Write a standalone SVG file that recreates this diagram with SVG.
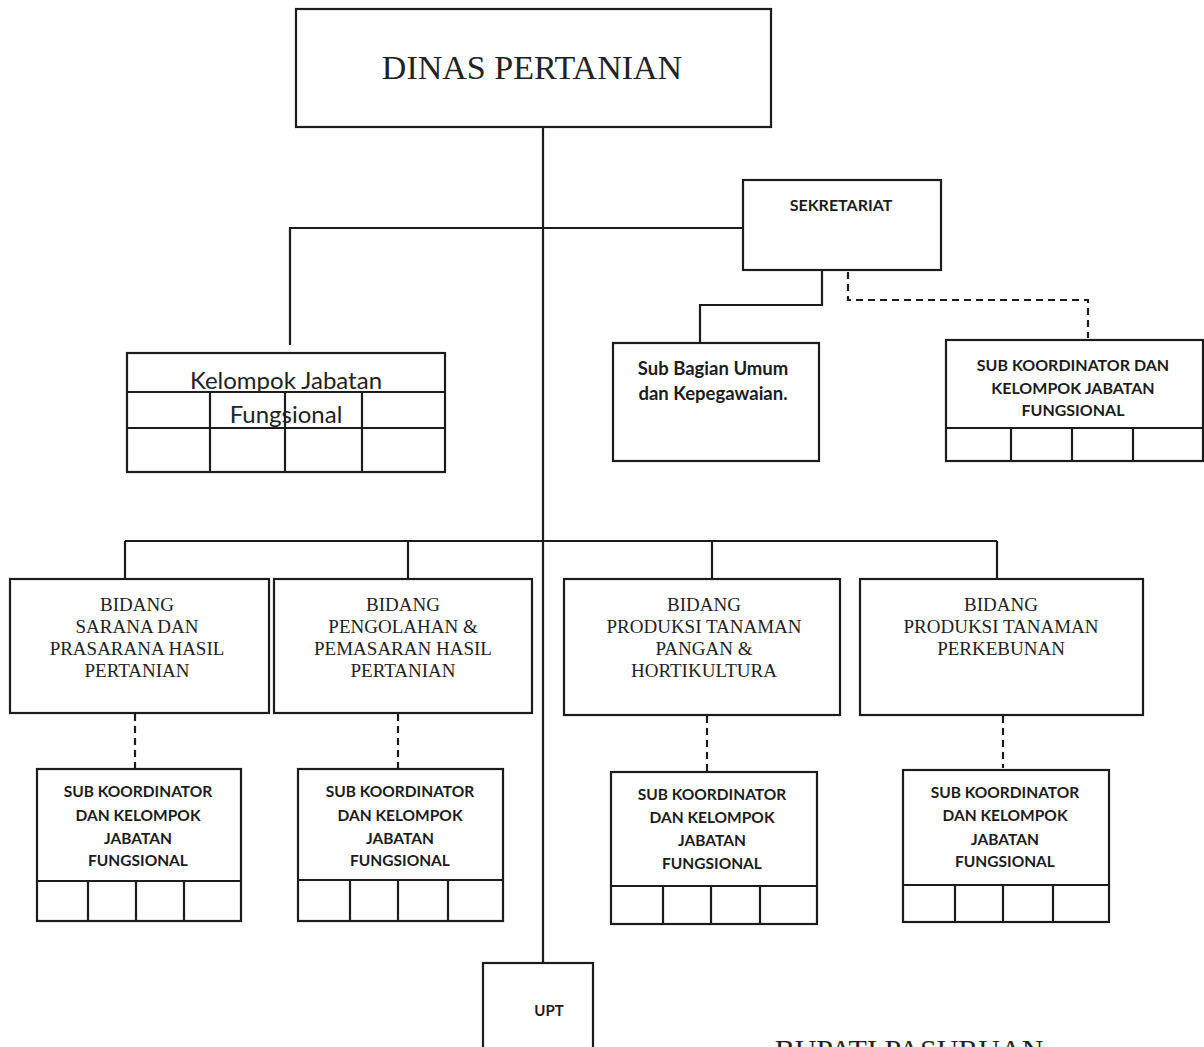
<svg xmlns="http://www.w3.org/2000/svg" width="1204" height="1047" viewBox="0 0 1204 1047">
<style>
.box{fill:#fff;stroke:#1c1c1c;stroke-width:2.2}
.ln{stroke:#1c1c1c;stroke-width:2.2;fill:none}
.dash{stroke:#1c1c1c;stroke-width:2.2;fill:none;stroke-dasharray:7,5}
.serif{font-family:"Liberation Serif","DejaVu Serif",serif;fill:#222;text-anchor:middle}
.sb{font-family:Lato,"Open Sans","Liberation Sans",sans-serif;font-weight:bold;fill:#1c1c1c;text-anchor:middle}
.sr{font-family:Lato,"Open Sans","Liberation Sans",sans-serif;fill:#222;text-anchor:middle}
</style>
<rect width="1204" height="1047" fill="#fff"/>
<g id="connectors">
<line class="ln" x1="543" y1="127" x2="543" y2="963"/>
<polyline class="ln" points="290,345 290,228 743,228"/>
<polyline class="ln" points="822,270 822,305 700,305 700,343"/>
<polyline class="dash" points="848,272 848,300 1088,300 1088,338"/>
<line class="ln" x1="125" y1="541" x2="997" y2="541"/>
<line class="ln" x1="125" y1="541" x2="125" y2="579"/>
<line class="ln" x1="408" y1="541" x2="408" y2="579"/>
<line class="ln" x1="712" y1="541" x2="712" y2="579"/>
<line class="ln" x1="997" y1="541" x2="997" y2="579"/>
<line class="dash" x1="135" y1="714" x2="135" y2="768"/>
<line class="dash" x1="398" y1="714" x2="398" y2="768"/>
<line class="dash" x1="707" y1="716" x2="707" y2="772"/>
<line class="dash" x1="1003" y1="716" x2="1003" y2="768"/>
</g>
<g id="dinas">
<rect class="box" x="296" y="9" width="475" height="118"/>
<text class="serif" x="532" y="79" font-size="34">DINAS PERTANIAN</text>
</g>
<g id="sekretariat">
<rect class="box" x="743" y="180" width="198" height="90"/>
<text class="sb" x="841" y="211" font-size="16">SEKRETARIAT</text>
</g>
<g id="kelompok-jabatan">
<rect class="box" x="127" y="353" width="318" height="119"/>
<line class="ln" x1="127" y1="392" x2="445" y2="392"/>
<line class="ln" x1="127" y1="428" x2="445" y2="428"/>
<line class="ln" x1="210" y1="392" x2="210" y2="472"/>
<line class="ln" x1="285" y1="392" x2="285" y2="472"/>
<line class="ln" x1="362" y1="392" x2="362" y2="472"/>
<text class="sr" x="286" y="389" font-size="24">Kelompok Jabatan</text>
<text class="sr" x="286" y="423" font-size="24">Fungsional</text>
</g>
<g id="sub-bagian">
<rect class="box" x="613" y="343" width="206" height="118"/>
<text class="sb" x="713" y="375" font-size="18.5">Sub Bagian Umum</text>
<text class="sb" x="713" y="400" font-size="18.5">dan Kepegawaian.</text>
</g>
<g id="sub-koordinator-sekretariat">
<rect class="box" x="946" y="340" width="257" height="121"/>
<line class="ln" x1="946" y1="428" x2="1203" y2="428"/>
<line class="ln" x1="1011" y1="428" x2="1011" y2="461"/>
<line class="ln" x1="1072" y1="428" x2="1072" y2="461"/>
<line class="ln" x1="1133" y1="428" x2="1133" y2="461"/>
<text class="sb" x="1073" y="371" font-size="16">SUB KOORDINATOR DAN</text>
<text class="sb" x="1073" y="394" font-size="16">KELOMPOK JABATAN</text>
<text class="sb" x="1073" y="416" font-size="16">FUNGSIONAL</text>
</g>
<g id="bidang-sarana">
<rect class="box" x="10" y="579" width="259" height="134"/>
<text class="serif" x="137" y="611" font-size="19">BIDANG</text>
<text class="serif" x="137" y="633" font-size="19">SARANA DAN</text>
<text class="serif" x="137" y="655" font-size="19">PRASARANA HASIL</text>
<text class="serif" x="137" y="677" font-size="19">PERTANIAN</text>
</g>
<g id="bidang-pengolahan">
<rect class="box" x="274" y="579" width="258" height="134"/>
<text class="serif" x="403" y="611" font-size="19">BIDANG</text>
<text class="serif" x="403" y="633" font-size="19">PENGOLAHAN &amp;</text>
<text class="serif" x="403" y="655" font-size="19">PEMASARAN HASIL</text>
<text class="serif" x="403" y="677" font-size="19">PERTANIAN</text>
</g>
<g id="bidang-pangan">
<rect class="box" x="564" y="579" width="276" height="136"/>
<text class="serif" x="704" y="611" font-size="19">BIDANG</text>
<text class="serif" x="704" y="633" font-size="19">PRODUKSI TANAMAN</text>
<text class="serif" x="704" y="655" font-size="19">PANGAN &amp;</text>
<text class="serif" x="704" y="677" font-size="19">HORTIKULTURA</text>
</g>
<g id="bidang-perkebunan">
<rect class="box" x="860" y="579" width="283" height="136"/>
<text class="serif" x="1001" y="611" font-size="19">BIDANG</text>
<text class="serif" x="1001" y="633" font-size="19">PRODUKSI TANAMAN</text>
<text class="serif" x="1001" y="655" font-size="19">PERKEBUNAN</text>
</g>
<g id="sub-a">
<rect class="box" x="37" y="769" width="204" height="152"/>
<line class="ln" x1="37" y1="881" x2="241" y2="881"/>
<line class="ln" x1="88" y1="881" x2="88" y2="921"/>
<line class="ln" x1="136" y1="881" x2="136" y2="921"/>
<line class="ln" x1="184" y1="881" x2="184" y2="921"/>
<text class="sb" x="138" y="797" font-size="15.5">SUB KOORDINATOR</text>
<text class="sb" x="138" y="821" font-size="15.5">DAN KELOMPOK</text>
<text class="sb" x="138" y="844" font-size="15.5">JABATAN</text>
<text class="sb" x="138" y="866" font-size="15.5">FUNGSIONAL</text>
</g>
<g id="sub-b">
<rect class="box" x="298" y="769" width="205" height="152"/>
<line class="ln" x1="298" y1="880" x2="503" y2="880"/>
<line class="ln" x1="350" y1="880" x2="350" y2="921"/>
<line class="ln" x1="398" y1="880" x2="398" y2="921"/>
<line class="ln" x1="448" y1="880" x2="448" y2="921"/>
<text class="sb" x="400" y="797" font-size="15.5">SUB KOORDINATOR</text>
<text class="sb" x="400" y="821" font-size="15.5">DAN KELOMPOK</text>
<text class="sb" x="400" y="844" font-size="15.5">JABATAN</text>
<text class="sb" x="400" y="866" font-size="15.5">FUNGSIONAL</text>
</g>
<g id="sub-c">
<rect class="box" x="611" y="772" width="206" height="152"/>
<line class="ln" x1="611" y1="886" x2="817" y2="886"/>
<line class="ln" x1="663" y1="886" x2="663" y2="924"/>
<line class="ln" x1="711" y1="886" x2="711" y2="924"/>
<line class="ln" x1="760" y1="886" x2="760" y2="924"/>
<text class="sb" x="712" y="800" font-size="15.5">SUB KOORDINATOR</text>
<text class="sb" x="712" y="823" font-size="15.5">DAN KELOMPOK</text>
<text class="sb" x="712" y="846" font-size="15.5">JABATAN</text>
<text class="sb" x="712" y="869" font-size="15.5">FUNGSIONAL</text>
</g>
<g id="sub-d">
<rect class="box" x="903" y="770" width="206" height="152"/>
<line class="ln" x1="903" y1="885" x2="1109" y2="885"/>
<line class="ln" x1="955" y1="885" x2="955" y2="922"/>
<line class="ln" x1="1003" y1="885" x2="1003" y2="922"/>
<line class="ln" x1="1053" y1="885" x2="1053" y2="922"/>
<text class="sb" x="1005" y="798" font-size="15.5">SUB KOORDINATOR</text>
<text class="sb" x="1005" y="821" font-size="15.5">DAN KELOMPOK</text>
<text class="sb" x="1005" y="845" font-size="15.5">JABATAN</text>
<text class="sb" x="1005" y="867" font-size="15.5">FUNGSIONAL</text>
</g>
<g id="upt">
<rect class="box" x="483" y="963" width="110" height="90"/>
<text class="sb" x="549" y="1016" font-size="15">UPT</text>
</g>
<text class="serif" x="909" y="1060" font-size="30">BUPATI PASURUAN</text>
</svg>
